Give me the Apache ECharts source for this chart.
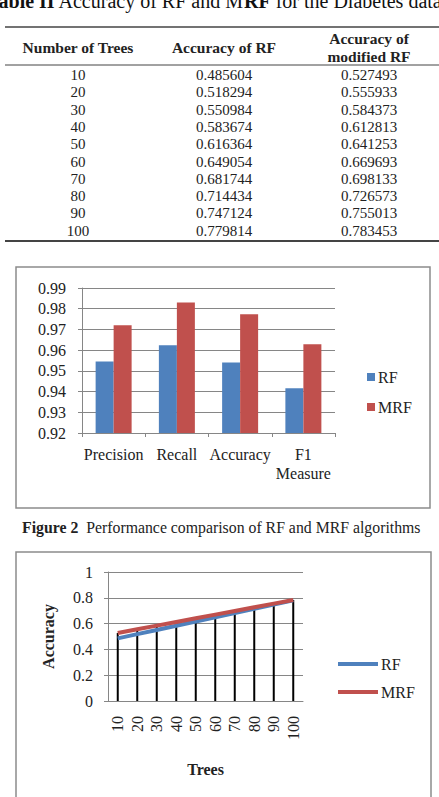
<!DOCTYPE html>
<html>
<head>
<meta charset="utf-8">
<script src="https://cdn.jsdelivr.net/npm/echarts@6/dist/echarts.min.js"></script>
<style>
  html, body { margin: 0; padding: 0; background: #fff; }
  #page { width: 439px; height: 797px; }
</style>
</head>
<body>
<div id="page"></div>
<script>
// Table II / Figure 3 data
const trees = [10, 20, 30, 40, 50, 60, 70, 80, 90, 100]
const rfAccuracy = [0.485604, 0.518294, 0.550984, 0.583674, 0.616364, 0.649054, 0.681744, 0.714434, 0.747124, 0.779814]
const mrfAccuracy = [0.527493, 0.555933, 0.584373, 0.612813, 0.641253, 0.669693, 0.698133, 0.726573, 0.755013, 0.783453]

// Figure 2 data
const metrics = ['Precision', 'Recall', 'Accuracy', 'F1\nMeasure']
const rfScores = [0.9545, 0.9624, 0.954, 0.9416]
const mrfScores = [0.9720, 0.9830, 0.9773, 0.9629]

const barTicks = [0.92, 0.99, 0.01]
const lineTicks = [0, 1, 0.2]

const serif = 'Liberation Serif'
const gray = '#868686'
const blue = '#4F81BD'
const red = '#C0504D'

const chart = echarts.init(document.getElementById('page'), null, { renderer: 'svg' })

// table drawn as graphic text
const graphics = []
graphics.push({
  type: 'text', left: -13, top: -9,
  style: {
    text: '{b|Table II} Accuracy of RF and M{b|RF} for the Diabetes data',
    fontSize: 20, fontFamily: serif, fill: '#111',
    rich: { b: { fontWeight: 'bold', fontSize: 20, fontFamily: serif } }
  }
})
const rule = (y, w) => ({
  type: 'line', shape: { x1: 5, y1: y, x2: 439, y2: y },
  style: { stroke: '#444', lineWidth: w }
})
graphics.push(rule(27, 1.5), rule(65, 1), rule(241, 2))
const hdr = (x, y, t) => ({
  type: 'text', x: x, y: y,
  style: { text: t, fontSize: 15.5, fontWeight: 'bold', fontFamily: serif, fill: '#222', align: 'center', verticalAlign: 'middle' }
})
graphics.push(hdr(78, 47, 'Number of Trees'), hdr(224, 47, 'Accuracy of RF'),
  hdr(369, 38, 'Accuracy of'), hdr(369, 56, 'modified RF'))
trees.forEach((t, i) => {
  const y = 75 + i * 17.3
  const cell = (x, txt) => ({
    type: 'text', x: x, y: y,
    style: { text: txt, fontSize: 15, fontFamily: serif, fill: '#222', align: 'center', verticalAlign: 'middle' }
  })
  graphics.push(cell(78, String(t)), cell(224, rfAccuracy[i].toFixed(6)), cell(369, mrfAccuracy[i].toFixed(6)))
})

// chart frames
graphics.push({
  type: 'rect', shape: { x: 16, y: 267, width: 414, height: 241 },
  style: { fill: 'none', stroke: '#8c8c8c', lineWidth: 1.5 }
})
graphics.push({
  type: 'rect', shape: { x: 16, y: 552, width: 415, height: 260 },
  style: { fill: 'none', stroke: '#8c8c8c', lineWidth: 1.5 }
})

// caption
graphics.push({
  type: 'text', x: 22, y: 527,
  style: {
    text: '{b|Figure 2}  Performance comparison of RF and MRF algorithms',
    fontSize: 15.8, fontFamily: serif, fill: '#222', verticalAlign: 'middle',
    rich: { b: { fontWeight: 'bold', fontSize: 15.8, fontFamily: serif } }
  }
})

const option = {
  animation: false,
  textStyle: { fontFamily: serif },
  graphic: graphics,
  grid: [
    { left: 82, top: 288, width: 253, height: 145 },
    { left: 108, top: 572, width: 195, height: 129 }
  ],
  legend: [
    {
      data: ['RF', 'MRF'].map(n => ({ name: n })),
      left: 362, top: 364, orient: 'vertical', itemGap: 14,
      icon: 'rect', itemWidth: 8, itemHeight: 8,
      textStyle: { fontSize: 16, color: '#222', fontFamily: serif, padding: [0, 0, 0, -2] },
      selectedMode: false
    },
    {
      data: ['RF', 'MRF'].map(n => ({ name: n + ' ' })),
      left: 333, top: 651, orient: 'vertical', itemGap: 12,
      icon: 'rect', itemWidth: 40, itemHeight: 4,
      textStyle: { fontSize: 16, color: '#222', fontFamily: serif, padding: [0, 0, 0, -2] },
      selectedMode: false
    }
  ],
  xAxis: [
    {
      type: 'category', gridIndex: 0, data: metrics,
      axisLine: { lineStyle: { color: gray } },
      axisTick: { show: true, length: 4, lineStyle: { color: gray } },
      axisLabel: { interval: 0, color: '#222', fontSize: 16, margin: 12, lineHeight: 19, fontFamily: serif }
    },
    {
      type: 'category', gridIndex: 1, data: trees.map(String),
      name: 'Trees', nameLocation: 'middle', nameGap: 60,
      nameTextStyle: { fontWeight: 'bold', fontSize: 16, color: '#222', fontFamily: serif },
      axisLine: { lineStyle: { color: gray } },
      axisTick: { show: false },
      axisLabel: { interval: 0, color: '#222', fontSize: 16, rotate: 90, margin: 15, fontFamily: serif }
    }
  ],
  yAxis: [
    {
      type: 'value', gridIndex: 0,
      min: barTicks[0], max: barTicks[1], interval: barTicks[2],
      axisLine: { show: true, lineStyle: { color: gray } },
      axisTick: { show: true, length: 4, lineStyle: { color: gray } },
      splitLine: { lineStyle: { color: gray } },
      axisLabel: { color: '#222', fontSize: 16, margin: 16, fontFamily: serif, formatter: v => v.toFixed(2) }
    },
    {
      type: 'value', gridIndex: 1,
      min: lineTicks[0], max: lineTicks[1], interval: lineTicks[2],
      name: 'Accuracy', nameLocation: 'middle', nameGap: 52,
      nameTextStyle: { fontWeight: 'bold', fontSize: 16, color: '#222', fontFamily: serif },
      axisLine: { show: true, lineStyle: { color: gray } },
      axisTick: { show: true, length: 4, lineStyle: { color: gray } },
      splitLine: { lineStyle: { color: gray } },
      axisLabel: { color: '#222', fontSize: 16, margin: 15, fontFamily: serif, formatter: v => String(+v.toFixed(1)) }
    }
  ],
  series: [
    { name: 'RF', type: 'bar', xAxisIndex: 0, yAxisIndex: 0, data: rfScores, barWidth: 18, barGap: '0%', itemStyle: { color: blue } },
    { name: 'MRF', type: 'bar', xAxisIndex: 0, yAxisIndex: 0, data: mrfScores, barWidth: 18, barGap: '0%', itemStyle: { color: red } },
    // drop lines (Excel style)
    {
      name: 'drop', type: 'bar', xAxisIndex: 1, yAxisIndex: 1, barWidth: 2, z: 1,
      data: trees.map((t, i) => Math.max(rfAccuracy[i], mrfAccuracy[i])),
      itemStyle: { color: '#000' }
    },
    {
      name: 'RF ', type: 'line', xAxisIndex: 1, yAxisIndex: 1, data: rfAccuracy,
      symbol: 'none', z: 3, lineStyle: { color: blue, width: 4 }, itemStyle: { color: blue }
    },
    {
      name: 'MRF ', type: 'line', xAxisIndex: 1, yAxisIndex: 1, data: mrfAccuracy,
      symbol: 'none', z: 4, lineStyle: { color: red, width: 4 }, itemStyle: { color: red }
    }
  ]
}
chart.setOption(option)
</script>
</body>
</html>
